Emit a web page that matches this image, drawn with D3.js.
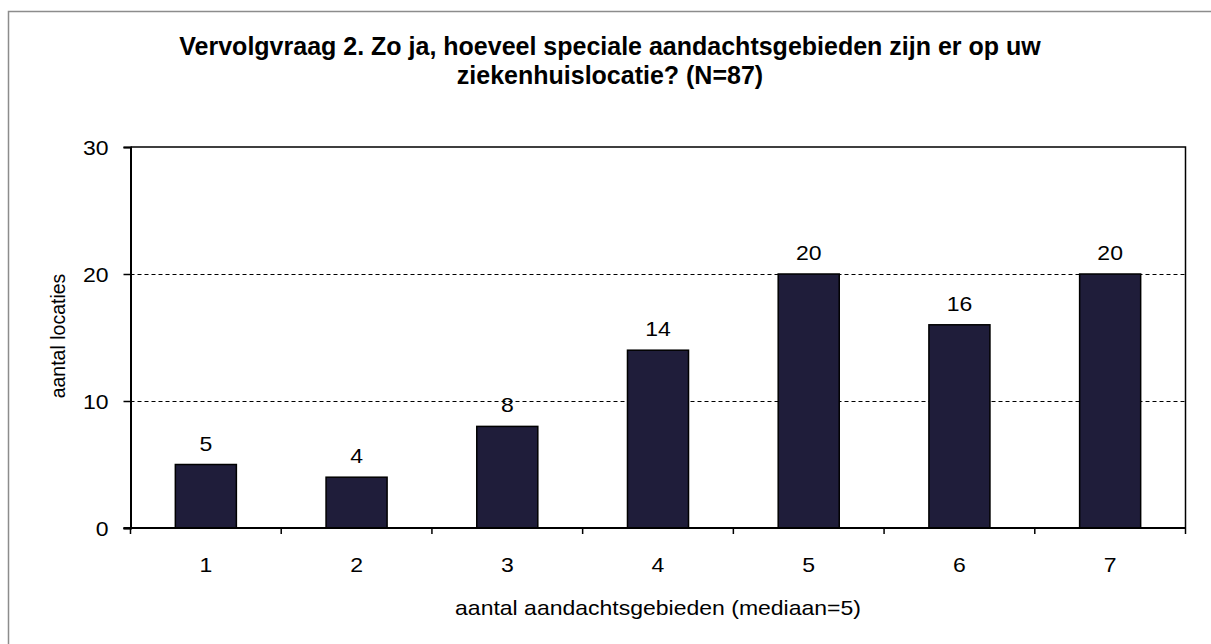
<!DOCTYPE html>
<html>
<head>
<meta charset="utf-8">
<script src="https://cdn.jsdelivr.net/npm/d3@7"></script>
<style>
  body { margin: 0; background: #fff; }
  svg { display: block; font-family: "Liberation Sans", Arial, sans-serif; }
</style>
</head>
<body>
<div id="grafiek"></div>
<script>
const categorieen = ["1", "2", "3", "4", "5", "6", "7"];
const aantallen = [5, 4, 8, 14, 20, 16, 20];
const yTicks = [0, 10, 20, 30];
const titelRegels = [
    "Vervolgvraag 2. Zo ja, hoeveel speciale aandachtsgebieden zijn er op uw",
    "ziekenhuislocatie? (N=87)"
];
const xTitel = "aantal aandachtsgebieden (mediaan=5)";
const yTitel = "aantal locaties";

const breedte = 1211, hoogte = 644;
const marge = { left: 130.5, right: 1185.5, top: 147, bottom: 528 };
const kleurBalk = "#1f1d3a";
const tekstGrootte = "20px";
const rek = 1.15; // tekst in het origineel is iets breed uitgerekt

const svg = d3.select("#grafiek").append("svg")
    .attr("width", breedte)
    .attr("height", hoogte);

// kader om de hele grafiek
svg.append("rect")
    .attr("x", 8.5).attr("y", 11.5)
    .attr("width", 1240).attr("height", 660)
    .style("fill", "none")
    .style("stroke", "#8c8c8c")
    .style("stroke-width", "1.5px");

const x = d3.scaleBand()
    .domain(categorieen)
    .range([marge.left, marge.right])
    .padding(0);

const y = d3.scaleLinear()
    .domain([0, 30])
    .range([marge.bottom, marge.top]);

// gestippelde rasterlijnen
svg.append("g")
    .selectAll("line")
    .data(yTicks.filter(t => t > 0 && t < 30))
    .enter().append("line")
    .attr("x1", marge.left).attr("x2", marge.right)
    .attr("y1", d => Math.round(y(d)) + 0.5)
    .attr("y2", d => Math.round(y(d)) + 0.5)
    .style("stroke", "#000")
    .style("stroke-width", "1px")
    .style("stroke-dasharray", "4,3");

// plotkader rechts en boven
svg.append("path")
    .attr("d", `M${marge.left},${marge.top}H${marge.right}V${marge.bottom}`)
    .style("fill", "none")
    .style("stroke", "#000")
    .style("stroke-width", "1.5px");

// balken
const balkBreedte = x.bandwidth() * 0.405;
svg.append("g")
    .selectAll("rect")
    .data(aantallen)
    .enter().append("rect")
    .attr("x", (d, i) => x(categorieen[i]) + (x.bandwidth() - balkBreedte) / 2)
    .attr("y", d => y(d))
    .attr("width", balkBreedte)
    .attr("height", d => y(0) - y(d))
    .style("fill", kleurBalk)
    .style("stroke", "#000")
    .style("stroke-width", "1.5px");

// waardelabels
svg.append("g")
    .selectAll("text")
    .data(aantallen)
    .enter().append("text")
    .attr("transform", (d, i) =>
        `translate(${x(categorieen[i]) + x.bandwidth() / 2},${y(d) - 14}) scale(${rek},1)`)
    .attr("text-anchor", "middle")
    .style("font-size", tekstGrootte)
    .style("fill", "#000")
    .text(d => d);

// y-as
const yAs = d3.axisLeft(y)
    .tickValues(yTicks)
    .tickSize(7)
    .tickPadding(15);
const gY = svg.append("g")
    .attr("transform", `translate(${marge.left},0)`)
    .call(yAs);
gY.select(".domain").style("stroke-width", "2px");
gY.selectAll(".tick line").style("stroke-width", "1.5px");
gY.selectAll(".tick text")
    .attr("x", null)
    .attr("dy", "0.36em")
    .attr("transform", `translate(-22,0) scale(${rek},1)`)
    .style("font-size", tekstGrootte)
    .style("font-family", "Liberation Sans, Arial, sans-serif");

// x-as met tickmarkeringen op de grenzen tussen categorieën
svg.append("line")
    .attr("x1", marge.left - 7).attr("x2", marge.right)
    .attr("y1", marge.bottom).attr("y2", marge.bottom)
    .style("stroke", "#000")
    .style("stroke-width", "2px");

svg.append("g")
    .selectAll("line")
    .data(categorieen.concat(["end"]))
    .enter().append("line")
    .attr("x1", (d, i) => i < categorieen.length ? x(d) : marge.right)
    .attr("x2", (d, i) => i < categorieen.length ? x(d) : marge.right)
    .attr("y1", marge.bottom)
    .attr("y2", marge.bottom + 6)
    .style("stroke", "#000")
    .style("stroke-width", "1.5px");

svg.append("g")
    .selectAll("text")
    .data(categorieen)
    .enter().append("text")
    .attr("transform", d => `translate(${x(d) + x.bandwidth() / 2},571.5) scale(${rek},1)`)
    .attr("text-anchor", "middle")
    .style("font-size", tekstGrootte)
    .text(d => d);

// astitels
svg.append("text")
    .attr("transform", `translate(${(marge.left + marge.right) / 2},615) scale(${rek},1)`)
    .attr("text-anchor", "middle")
    .style("font-size", tekstGrootte)
    .text(xTitel);

svg.append("text")
    .attr("transform", "translate(65,336) rotate(-90)")
    .attr("text-anchor", "middle")
    .style("font-size", "19.5px")
    .text(yTitel);

// titel
svg.append("g")
    .selectAll("text")
    .data(titelRegels)
    .enter().append("text")
    .attr("x", 610)
    .attr("y", (d, i) => 55 + i * 28.5)
    .attr("text-anchor", "middle")
    .style("font-size", "25px")
    .style("font-weight", "bold")
    .text(d => d);
</script>
</body>
</html>
